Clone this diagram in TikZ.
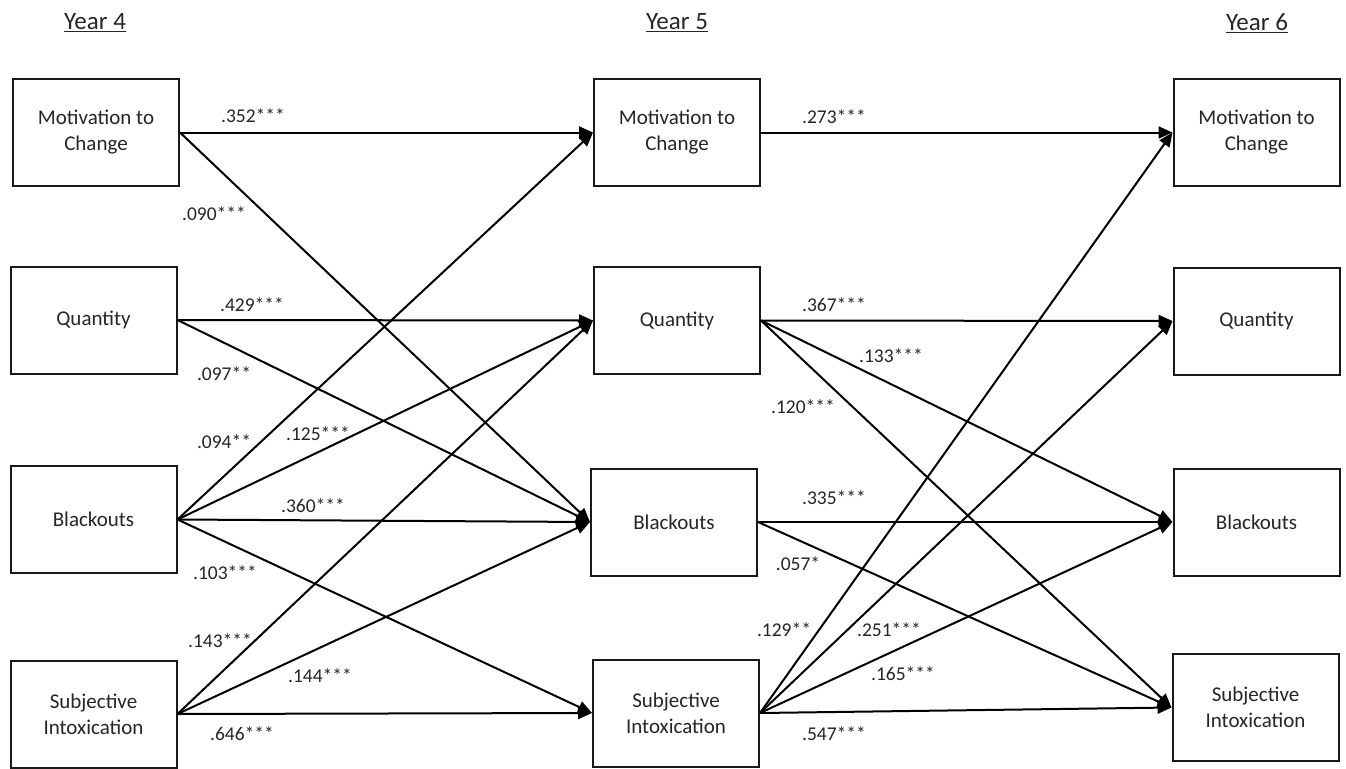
\documentclass[tikz,border=0pt]{standalone}
\usepackage{fontspec}
\setmainfont{Carlito}
\usetikzlibrary{arrows.meta}
\begin{document}
\begin{tikzpicture}[x=1pt,y=-1pt,
  varbox/.style={draw=black!90,line width=2pt,minimum width=166pt,minimum height=107pt,inner sep=0pt,align=center,font=\fontsize{21}{26}\selectfont,text=black!85},
  path/.style={line width=2pt,draw=black,-{Triangle[length=14pt,width=12pt]}},
  coef/.style={font=\fontsize{19.5}{22}\selectfont,text=black!85,inner sep=0pt},
  yeartitle/.style={font=\fontsize{25}{28}\selectfont,text=black!85,inner sep=0pt}]
\useasboundingbox (0,0) rectangle (1346,768);
\fill[white] (0,0) rectangle (1346,768);
% titles
\node[yeartitle] (t4) at (95,23) {\underline{Year 4}};
\node[yeartitle] (t5) at (677,23) {\underline{Year 5}};
\node[yeartitle] (t6) at (1257,23) {\underline{Year 6}};
% boxes
\node[varbox] (m4) at (96,132.5) {Motivation to\\Change};
\node[varbox] (q4) at (93.5,320) {Quantity};
\node[varbox] (b4) at (93.5,519.5) {Blackouts};
\node[varbox] (s4) at (93.5,714) {Subjective\\Intoxication};
\node[varbox] (m5) at (677,132.5) {Motivation to\\Change};
\node[varbox] (q5) at (677,320.5) {Quantity};
\node[varbox] (b5) at (674,522) {Blackouts};
\node[varbox] (s5) at (676,713) {Subjective\\Intoxication};
\node[varbox] (m6) at (1256.5,132.5) {Motivation to\\Change};
\node[varbox] (q6) at (1256.5,321) {Quantity};
\node[varbox] (b6) at (1256.5,522) {Blackouts};
\node[varbox] (s6) at (1255.5,707.5) {Subjective\\Intoxication};
% Year 4 -> Year 5
\draw[path] (m4.east) -- (m5.west);
\draw[path] (m4.east) -- (b5.west);
\draw[path] (q4.east) -- (q5.west);
\draw[path] (q4.east) -- (b5.west);
\draw[path] (b4.east) -- (m5.west);
\draw[path] (b4.east) -- (q5.west);
\draw[path] (b4.east) -- (b5.west);
\draw[path] (b4.east) -- (s5.west);
\draw[path] (s4.east) -- (q5.west);
\draw[path] (s4.east) -- (b5.west);
\draw[path] (s4.east) -- (s5.west);
% Year 5 -> Year 6
\draw[path] (m5.east) -- (m6.west);
\draw[path] (q5.east) -- (q6.west);
\draw[path] (q5.east) -- (b6.west);
\draw[path] (q5.east) -- (s6.west);
\draw[path] (b5.east) -- (b6.west);
\draw[path] (b5.east) -- (s6.west);
\draw[path] (s5.east) -- (m6.west);
\draw[path] (s5.east) -- (q6.west);
\draw[path] (s5.east) -- (b6.west);
\draw[path] (s5.east) -- (s6.west);
% coefficients
\node[coef] (c1) at (253,116) {.352***};
\node[coef] (c2) at (214,214) {.090***};
\node[coef] (c3) at (252,305) {.429***};
\node[coef] (c4) at (224,374) {.097**};
\node[coef] (c5) at (224,442) {.094**};
\node[coef] (c6) at (318,434) {.125***};
\node[coef] (c7) at (313,506) {.360***};
\node[coef] (c8) at (225,573) {.103***};
\node[coef] (c9) at (220,641) {.143***};
\node[coef] (c10) at (320,676) {.144***};
\node[coef] (c11) at (242,734) {.646***};
\node[coef] (c12) at (834,117) {.273***};
\node[coef] (c13) at (834,305) {.367***};
\node[coef] (c14) at (891,356) {.133***};
\node[coef] (c15) at (803,407) {.120***};
\node[coef] (c16) at (834,498) {.335***};
\node[coef] (c17) at (798,564) {.057*};
\node[coef] (c18) at (784,630) {.129**};
\node[coef] (c19) at (889,630) {.251***};
\node[coef] (c20) at (903,674) {.165***};
\node[coef] (c21) at (834,734) {.547***};
\end{tikzpicture}
\end{document}
